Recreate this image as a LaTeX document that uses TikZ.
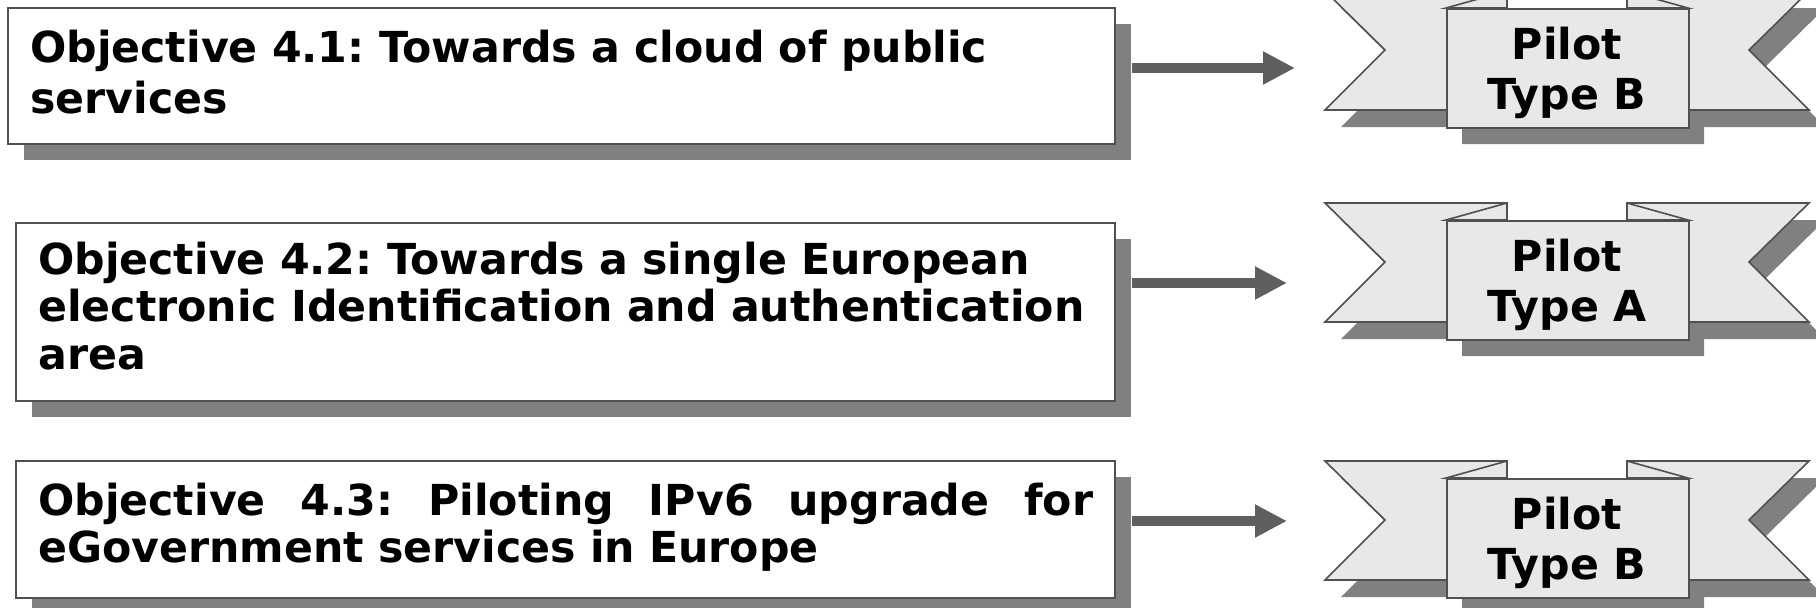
\documentclass[tikz,border=0pt]{standalone}
\usepackage{fontspec}
\setmainfont{DejaVu Sans}
\usetikzlibrary{arrows.meta,shadows}
\definecolor{shadowgray}{HTML}{808080}
\definecolor{ribfill}{HTML}{E8E8E8}
\definecolor{edgegray}{HTML}{505050}
\definecolor{arrowgray}{HTML}{5F5F5F}
\tikzset{
  bigfont/.style={font=\fontsize{42.7}{#1}\selectfont\bfseries\frenchspacing},
  objbox/.style={draw=edgegray, line width=1.5pt, fill=white, rectangle, anchor=north west,
    inner sep=0pt,
    drop shadow={shadow xshift=16pt, shadow yshift=-16pt, fill=shadowgray, opacity=1}},
  objtext/.style={anchor=base west, inner sep=0pt, align=left, text width=1060pt, bigfont=#1},
  rib/.style={draw=edgegray, line width=1.6pt, fill=ribfill, line join=miter},
  ribbox/.style={rib, rectangle, anchor=north west, inner sep=0pt},
  ribtext/.style={anchor=base, inner sep=0pt, align=center, text width=242pt, bigfont=50pt},
  arr/.style={draw=arrowgray, line width=10pt, -{Triangle[length=32pt,width=31pt]}},
}
\newcommand\ribbonat[4]{%
  \begin{scope}[shift={(#2,#3)}]
    \fill[shadowgray, shift={(16,17)}] (-121,-17) -- (363,-17) -- (303,42) -- (363,102) -- (242,102)
      -- (242,119) -- (0,119) -- (0,102) -- (-121,102) -- (-61,42) -- cycle;
    \filldraw[rib] (-121,-17) -- (61,-17) -- (61,102) -- (-121,102) -- (-61,42) -- cycle;
    \filldraw[rib] (363,-17) -- (181,-17) -- (181,102) -- (363,102) -- (303,42) -- cycle;
    \filldraw[rib] (0,0) -- (61,-17) -- (61,0) -- cycle;
    \filldraw[rib] (242,0) -- (181,-17) -- (181,0) -- cycle;
    \node[ribbox, minimum width=242pt, minimum height=119pt] (#1) at (0,0) {};
    \node[ribtext] (#1t) at (121,51) {Pilot\\#4};
  \end{scope}}
\begin{document}
\begin{tikzpicture}[x=1pt,y=-1pt]
  \useasboundingbox (0,0) rectangle (1816,608);
  \fill[white] (0,0) rectangle (1816,608);

  % objective boxes
  \node[objbox, minimum width=1107pt, minimum height=136pt] (o1) at (7,7) {};
  \node[objtext=51pt] (o1t) at (30,62)
    {Objective 4.1: Towards a cloud of public\\services};
  \node[objbox, minimum width=1099pt, minimum height=178pt] (o2) at (15,222) {};
  \node[objtext=47.5pt] (o2t) at (38,274)
    {Objective 4.2: Towards a single European\\electronic Identification and authentication\\area};
  \node[objbox, minimum width=1099pt, minimum height=137pt] (o3) at (15,460) {};
  \node[objtext=47pt] (o3t) at (38,515)
    {\hbox to 1055pt{Objective\hfill 4.3:\hfill Piloting\hfill IPv6\hfill upgrade\hfill for}\\eGovernment services in Europe};

  % ribbons
  \ribbonat{p1}{1446}{8}{Type B}
  \ribbonat{p2}{1446}{220}{Type A}
  \ribbonat{p3}{1446}{478}{Type B}

  % arrows
  \coordinate (t1) at (1295,68);
  \coordinate (t2) at (1287,283);
  \coordinate (t3) at (1287,521);
  \draw[arr] ([xshift=16pt]t1 -| o1.east) -- (t1);
  \draw[arr] ([xshift=16pt]t2 -| o2.east) -- (t2);
  \draw[arr] ([xshift=16pt]t3 -| o3.east) -- (t3);
\end{tikzpicture}
\end{document}
